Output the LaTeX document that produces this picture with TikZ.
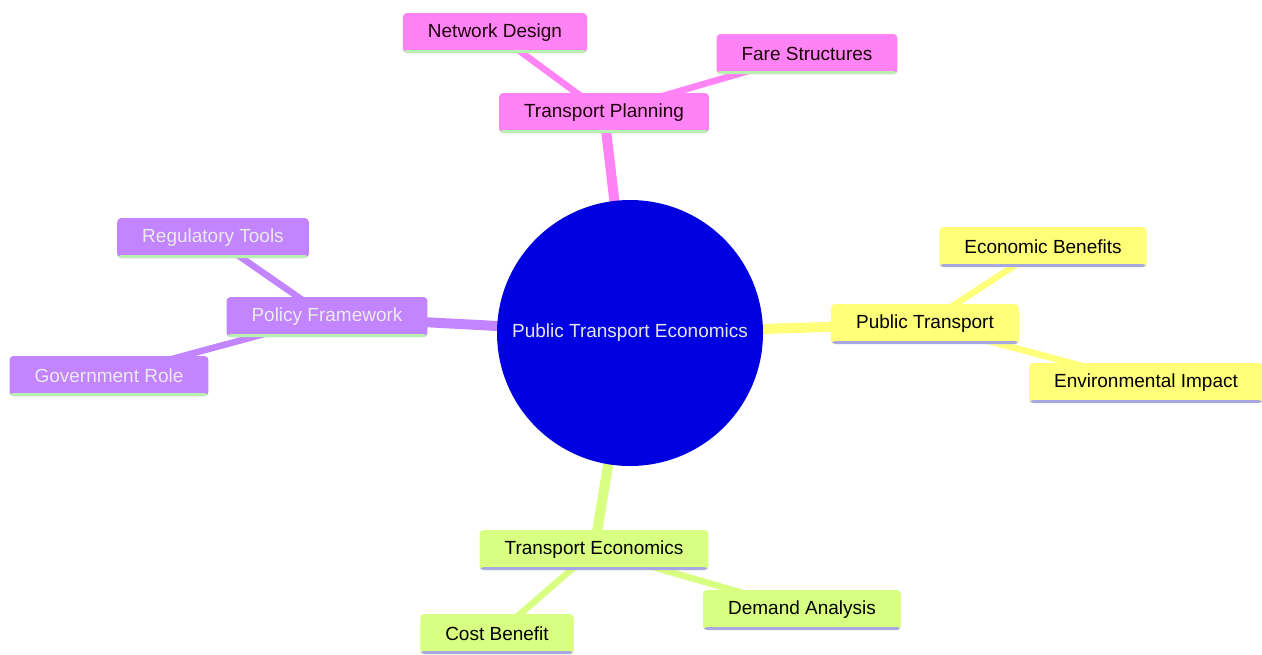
\documentclass[tikz,border=0pt]{standalone}
\usepackage{fontspec}
\setmainfont{Liberation Sans}
\usetikzlibrary{backgrounds}
\definecolor{pinkc}{HTML}{FF83F5}
\definecolor{purplec}{HTML}{C284FF}
\definecolor{yellowc}{HTML}{FFFF7A}
\definecolor{greenc}{HTML}{D9FF82}
\definecolor{rootc}{HTML}{0000E0}
\definecolor{ulgreen}{HTML}{B8F0B0}
\definecolor{ullav}{HTML}{A8A8E0}
\tikzset{
  box/.style={rectangle, rounded corners=4pt, inner xsep=25pt, minimum height=40pt,
    font=\fontsize{19}{23}\selectfont, text=black},
  ul/.style={path picture={\fill[#1] (path picture bounding box.south west) rectangle ([yshift=3pt]path picture bounding box.south east);}},
  pinkbox/.style={box, fill=pinkc, ul=ulgreen, text=black!85!purple},
  purplebox/.style={box, fill=purplec, ul=ulgreen, text=white!92!black},
  yellowbox/.style={box, fill=yellowc, ul=ullav},
  greenbox/.style={box, fill=greenc, ul=ullav},
  rootnode/.style={circle, fill=rootc, minimum size=266pt, inner sep=0pt, text=white!90!black,
    font=\fontsize{19}{23}\selectfont},
  mainedge/.style={line width=10pt, draw=#1},
  subedge/.style={line width=6.5pt, draw=#1},
}
\begin{document}
\begin{tikzpicture}[x=1pt, y=-1pt]
\useasboundingbox (0,0) rectangle (1262,654);
\node[rootnode] (root) at (630,333) {Public Transport Economics};
\node[pinkbox] (tp) at (604,113) {Transport Planning};
\node[pinkbox] (nd) at (495,33) {Network Design};
\node[pinkbox] (fs) at (807,54) {Fare Structures};
\node[purplebox] (pf) at (327,317) {Policy Framework};
\node[purplebox] (rt) at (213,238) {Regulatory Tools};
\node[purplebox] (gr) at (109,376) {Government Role};
\node[yellowbox] (pt) at (925,324) {Public Transport};
\node[yellowbox] (eb) at (1043,247) {Economic Benefits};
\node[yellowbox] (ei) at (1146,383) {Environmental Impact};
\node[greenbox] (te) at (594,550) {Transport Economics};
\node[greenbox] (cb) at (497,634) {Cost Benefit};
\node[greenbox] (da) at (802,610) {Demand Analysis};
\begin{scope}[on background layer]
\draw[mainedge=pinkc] (root.center) -- (tp.center);
\draw[mainedge=purplec] (root.center) -- (pf.center);
\draw[mainedge=yellowc] (root.center) -- (pt.center);
\draw[mainedge=greenc] (root.center) -- (te.center);
\draw[subedge=pinkc] (tp.center) -- (nd.center);
\draw[subedge=pinkc] (tp.center) -- (fs.center);
\draw[subedge=purplec] (pf.center) -- (rt.center);
\draw[subedge=purplec] (pf.center) -- (gr.center);
\draw[subedge=yellowc] (pt.center) -- (eb.center);
\draw[subedge=yellowc] (pt.center) -- (ei.center);
\draw[subedge=greenc] (te.center) -- (cb.center);
\draw[subedge=greenc] (te.center) -- (da.center);
\end{scope}
\end{tikzpicture}
\end{document}
